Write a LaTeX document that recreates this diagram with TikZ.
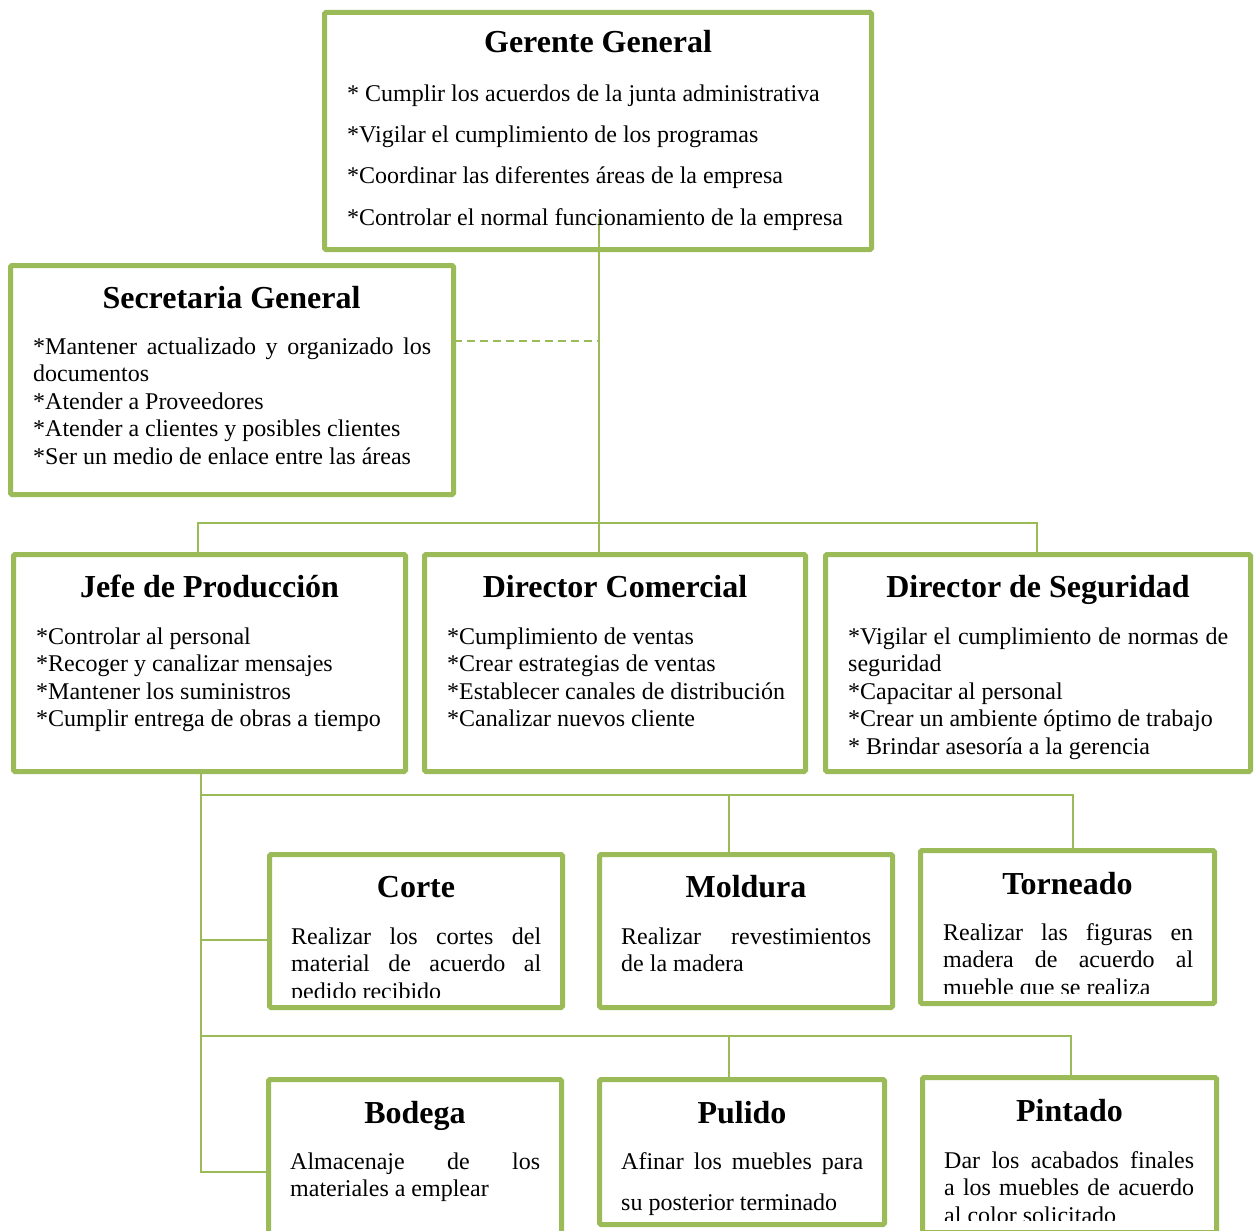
\documentclass[tikz,border=0pt]{standalone}
\usepackage{fontspec}
\setmainfont{Liberation Serif}
\definecolor{boxgreen}{HTML}{9BBB59}
% paragraph block: width, baselineskip, text; baseline = first line
\newcommand\para[3]{\vtop{\hsize=#1pt\fontsize{24}{#2}\selectfont
  \tolerance=10000\hbadness=10000\hyphenpenalty=10000\noindent #3\par}}
% line break that keeps a following asterisk as text
\newcommand\nl{\newline{}}
\tikzset{
  box/.style={draw=boxgreen, line width=5pt, rounded corners=1.5pt, fill=white,
    anchor=north west, inner sep=0pt, outer sep=0pt},
  link/.style={draw=boxgreen, line width=2pt},
  ttl/.style={anchor=base, inner sep=0pt, font=\bfseries\fontsize{32}{38}\selectfont},
  txt/.style={anchor=base west, inner sep=0pt},
}
\begin{document}
\begin{tikzpicture}[x=1pt, y=-1pt]
\clip (0,0) rectangle (1256,1231);
\fill[white] (0,0) rectangle (1256,1231);

% boxes
\node[box, minimum width=547pt, minimum height=237pt] (ger) at (324.5,12.5) {};
\node[box, minimum width=443pt, minimum height=229pt] (sec) at (10.5,265.5) {};
\node[box, minimum width=392pt, minimum height=217pt] (jefe) at (13.5,554.5) {};
\node[box, minimum width=381pt, minimum height=217pt] (com) at (424.5,554.5) {};
\node[box, minimum width=425pt, minimum height=217pt] (seg) at (825.5,554.5) {};
\node[box, minimum width=293pt, minimum height=153pt] (corte) at (269.5,854.5) {};
\node[box, minimum width=293pt, minimum height=153pt] (mold) at (599.5,854.5) {};
\node[box, minimum width=294pt, minimum height=153pt] (torn) at (920.5,850.5) {};
\node[box, minimum width=293pt, minimum height=180pt] (bod) at (268.5,1079.5) {};
\node[box, minimum width=285pt, minimum height=145pt] (pul) at (599.5,1079.5) {};
\node[box, minimum width=294pt, minimum height=155pt] (pin) at (922.5,1077.5) {};

% junction points
\coordinate (g0) at (599,216);
\coordinate (d0) at (599,341);
\coordinate (bl) at (198,523);
\coordinate (br) at (1037,523);
\coordinate (p0) at (201,795);
\coordinate (p1) at (729,795);
\coordinate (p2) at (1073,795);
\coordinate (p3) at (201,940);
\coordinate (q0) at (201,1036);
\coordinate (q1) at (729,1036);
\coordinate (q2) at (1071,1036);
\coordinate (p5) at (201,1172);

% connectors
\draw[link] (g0) -- (g0 |- com.north);
\draw[link, dashed, dash pattern=on 8pt off 5pt] (sec.east |- d0) -- (d0);
\draw[link] (bl |- jefe.north) -- (bl) -- (br) -- (br |- seg.north);
\draw[link] (p0 |- jefe.south) -- (p5) -- (p5 -| bod.west);
\draw[link] (p0) -- (p2) -- (p2 |- torn.north);
\draw[link] (p1) -- (p1 |- mold.north);
\draw[link] (p3) -- (p3 -| corte.west);
\draw[link] (q0) -- (q2) -- (q2 |- pin.north);
\draw[link] (q1) -- (q1 |- pul.north);

% titles
\node[ttl] (gerH) at (598,53) {Gerente General};
\node[ttl] (secH) at (231.5,308) {Secretaria General};
\node[ttl] (jefeH) at (209.5,597) {Jefe de Producción};
\node[ttl] (comH) at (615,597) {Director Comercial};
\node[ttl] (segH) at (1038,597) {Director de Seguridad};
\node[ttl] (corteH) at (416,897) {Corte};
\node[ttl] (moldH) at (746,897) {Moldura};
\node[ttl] (tornH) at (1067.5,894) {Torneado};
\node[ttl] (bodH) at (415,1123) {Bodega};
\node[ttl] (pulH) at (742,1123) {Pulido};
\node[ttl] (pinH) at (1069.5,1121) {Pintado};

% descriptions
\node[txt] (gerT) at (347,101) {\para{520}{41.4}{* Cumplir los acuerdos de la junta administrativa\nl
  *Vigilar el cumplimiento de los programas\nl
  *Coordinar las diferentes áreas de la empresa\nl
  *Controlar el normal funcionamiento de la empresa}};
\node[txt] (secT) at (33,354) {\para{398}{27.6}{*Mantener actualizado y organizado los\linebreak
  documentos\nl *Atender a Proveedores\nl *Atender a clientes y posibles clientes\nl
  *Ser un medio de enlace entre las áreas}};
\node[txt] (jefeT) at (36,644) {\para{365}{27.6}{*Controlar al personal\nl
  *Recoger y canalizar mensajes\nl *Mantener los suministros\nl
  *Cumplir entrega de obras a tiempo}};
\node[txt] (comT) at (447,644) {\para{350}{27.6}{*Cumplimiento de ventas\nl
  *Crear estrategias de ventas\nl *Establecer canales de distribución\nl
  *Canalizar nuevos cliente}};
\node[txt] (segT) at (848,644) {\para{380}{27.6}{*Vigilar el cumplimiento de normas de\linebreak
  seguridad\nl *Capacitar al personal\nl *Crear un ambiente óptimo de trabajo\nl
  * Brindar asesoría a la gerencia}};
\begin{scope}
  \clip (269,850) rectangle (563,997);
  \node[txt] (corteT) at (291,944) {\para{250}{27.6}{Realizar los cortes del\linebreak
    material de acuerdo al\linebreak pedido recibido}};
\end{scope}
\node[txt] (moldT) at (621,944) {\para{250}{27.6}{Realizar revestimientos\linebreak de la madera}};
\begin{scope}
  \clip (920,850) rectangle (1215,993);
  \node[txt] (tornT) at (943,940) {\para{250}{27.6}{Realizar las figuras en\linebreak
    madera de acuerdo al\linebreak mueble que se realiza}};
\end{scope}
\node[txt] (bodT) at (290,1169) {\para{250}{27.6}{Almacenaje de los\linebreak materiales a emplear}};
\node[txt] (pulT) at (621,1169) {\para{242}{41}{Afinar los muebles para\linebreak su posterior terminado}};
\begin{scope}
  \clip (922,1077) rectangle (1217,1220);
  \node[txt] (pinT) at (944,1168) {\para{250}{27.6}{Dar los acabados finales\linebreak
    a los muebles de acuerdo\linebreak al color solicitado}};
\end{scope}
\end{tikzpicture}
\end{document}
